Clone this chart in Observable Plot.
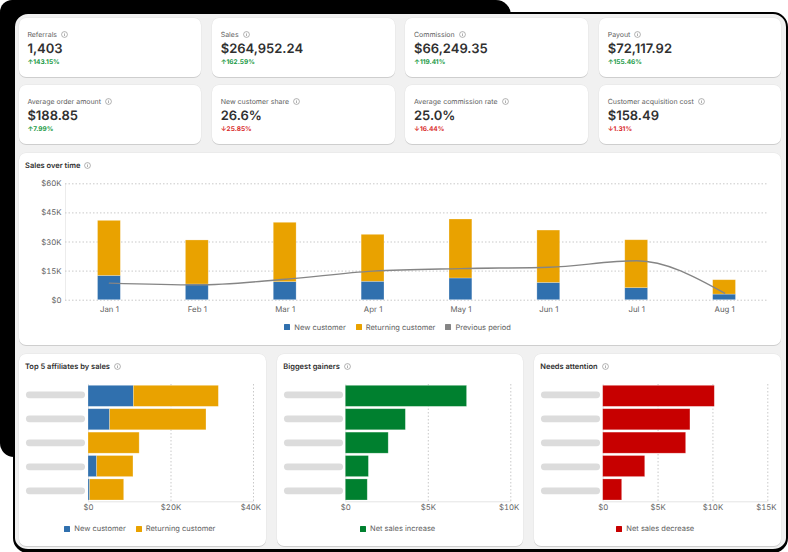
<!DOCTYPE html>
<html><head><meta charset="utf-8">
<script src="https://cdn.jsdelivr.net/npm/d3@7"></script>
<script src="https://cdn.jsdelivr.net/npm/@observablehq/plot@0.6"></script>
<style>
html,body{margin:0;padding:0;background:#fff;width:788px;height:552px;overflow:hidden;font-family:Inter,sans-serif;text-rendering:geometricPrecision}
#root{position:relative;width:788px;height:552px;overflow:hidden}
.blk{position:absolute;left:0;top:0;width:511px;height:457px;background:#000;border-radius:12px 15px 15px 14px}
.frame{position:absolute;left:12.5px;top:12px;width:771.2px;height:534.5px;background:#f1f1f1;border:2px solid #000;border-bottom-width:4px;border-radius:15px;box-sizing:content-box}
.card{position:absolute;background:#fff;border-radius:7px;box-shadow:0 1px 0 rgba(0,0,0,.12),0 0 0 .5px rgba(0,0,0,.05)}
.t{position:absolute;white-space:nowrap;line-height:1}
.lab{font-size:7px;color:#616161;display:flex;align-items:center;gap:4px}
.val{font-size:13px;font-weight:600;color:#303030}
.dlt{font-size:6.5px;font-weight:700}
.ttl{font-size:7.5px;font-weight:600;color:#303030;display:flex;align-items:center;gap:4px}
.leg{position:absolute;display:flex;align-items:center;font-size:7.5px;color:#616161;white-space:nowrap;line-height:1}
.leg i{display:inline-block;width:6px;height:6px;margin-right:4px;border-radius:.5px}
.info{width:7px;height:7px;flex:none}
svg{position:absolute;text-rendering:geometricPrecision}
</style></head><body><div id="root"><div class="blk"></div><div class="frame"></div></div>
<script>
// KPI cards
const kpiLabels = ["Referrals","Sales","Commission","Payout","Average order amount","New customer share","Average commission rate","Customer acquisition cost"];
const kpiValues = ["1,403","$264,952.24","$66,249.35","$72,117.92","$188.85","26.6%","25.0%","$158.49"];
const kpiDeltas = ["143.15%","162.59%","119.41%","155.46%","7.99%","25.85%","16.44%","1.31%"];
const kpiUp = [true,true,true,true,true,false,false,false];

// Sales over time
const months = ["Jan 1","Feb 1","Mar 1","Apr 1","May 1","Jun 1","Jul 1","Aug 1"];
const salesNew = [12500,8100,9300,9500,11200,8900,6200,2900];
const salesReturning = [28400,22700,30600,24200,30400,27000,24700,7400];
const salesPrevious = [8800,7900,10800,15000,16300,17000,20300,3600];
const salesTicks = [0,15000,30000,45000,60000];

// Bottom panels
const rows = ["a","b","c","d","e"];
const topNew = [11000,5250,0,2100,400];
const topReturning = [20600,23350,12400,8800,8250];
const gainers = [7350,3640,2600,1400,1330];
const attention = [10170,7950,7560,3830,1730];

const seriesNames = ["New customer","Returning customer"];
const BLUE="#3070ae",ORANGE="#e9a200",GREEN="#00802f",RED="#c70000",GRAY="#858585";
const FONT="Inter,sans-serif";
const root=document.getElementById("root");
const INFO='<svg class="info" style="position:static" viewBox="0 0 16 16"><circle cx="8" cy="8" r="6.7" fill="none" stroke="#7a7a7a" stroke-width="1.3"/><rect x="7.3" y="7" width="1.4" height="4.5" fill="#7a7a7a"/><rect x="7.3" y="4.3" width="1.4" height="1.5" fill="#7a7a7a"/></svg>';
function el(cls,l,t,w,h,html,style){const d=document.createElement("div");d.className=cls;d.style.left=l+"px";d.style.top=t+"px";if(w!=null)d.style.width=w+"px";if(h!=null)d.style.height=h+"px";if(html!=null)d.innerHTML=html;if(style)d.style.cssText+=style;root.appendChild(d);return d}
const colX=[[18.7,182.6],[212,182.7],[405.3,182.7],[599,182]];
const rowY=[[18,58.7],[85,59]];
kpiLabels.forEach((lab,i)=>{
  const c=colX[i%4],r=rowY[Math.floor(i/4)],tx=c[0]+8.7;
  el("card",c[0],r[0],c[1],r[1]);
  el("t lab",tx,r[0]+12.5,null,null,lab+INFO);
  el("t val",tx,r[0]+24.6,null,null,kpiValues[i]);
  el("t dlt",tx,r[0]+40.7,null,null,(kpiUp[i]?"↑":"↓")+kpiDeltas[i],"color:"+(kpiUp[i]?"#1a9a46":"#d92b2b"));
});
function legend(l,t,items){const d=el("leg",l,t);d.style.gap="10px";items.forEach(([c,n])=>{const s=document.createElement("span");s.style.display="flex";s.style.alignItems="center";s.innerHTML='<i style="background:'+c+'"></i>'+n;d.appendChild(s)});}
function place(p,l,t){p.style.left=l+"px";p.style.top=t+"px";root.appendChild(p)}
const money=d=>d===0?"$0":"$"+d/1000+"K";
const baseStyle={background:"transparent",fontFamily:FONT,fontSize:"7.8px",color:"#616161",overflow:"visible"};
const edge={stroke:"#fff",strokeOpacity:.35,strokeWidth:.7};

// main card
el("card",18.7,153,762.3,192);
el("t ttl",25,162,null,null,"Sales over time"+INFO);
const salesTable=months.flatMap((m,i)=>[{m,s:seriesNames[0],v:salesNew[i]},{m,s:seriesNames[1],v:salesReturning[i]}]);
const prevTable=months.map((m,i)=>({m,v:salesPrevious[i]}));
place(Plot.plot({
  width:762,height:145,marginLeft:46,marginRight:13,marginTop:11.3,marginBottom:17.3,style:baseStyle,
  x:{type:"band",domain:months,paddingInner:.74,paddingOuter:.37,align:.5,round:false,label:null},
  y:{domain:[0,60000],label:null},
  color:{domain:seriesNames,range:[BLUE,ORANGE]},
  marks:[
    Plot.frame({anchor:"left",stroke:"#ececec"}),
    Plot.ruleY(salesTicks,{stroke:"#c9c9c9",strokeDasharray:"1.5,2",strokeWidth:1}),
    Plot.barY(salesTable,{x:"m",y:"v",fill:"s",...edge}),
    Plot.line(prevTable,{x:"m",y:"v",stroke:GRAY,strokeWidth:1.4,curve:"monotone-x"}),
    Plot.axisY({ticks:salesTicks,tickFormat:money,tickSize:0,tickPadding:4,label:null}),
    Plot.axisX({tickSize:0,tickPadding:6.5,label:null})
  ]}),19,172);
legend(284.3,323.7,[[BLUE,"New customer"],[ORANGE,"Returning customer"],[GRAY,"Previous period"]]);

function barCard(cardX,cardW,title,ml,mr,maxX,ticks,lastDx,marks,colorOpt,legX,legItems){
  el("card",cardX,353.5,cardW,192.5);
  el("t ttl",25+(cardX-18.7),363.2,null,null,title+INFO);
  place(Plot.plot({
    width:cardW,height:144,marginLeft:ml,marginRight:mr,marginTop:4,marginBottom:22.7,style:baseStyle,
    x:{domain:[0,maxX],label:null},
    y:{type:"band",domain:rows,range:[5.3,120],paddingInner:.1,paddingOuter:0,align:.5,round:false,axis:null,label:null},
    color:colorOpt,
    marks:[
      Plot.ruleX(ticks.slice(1),{stroke:"#c9c9c9",strokeDasharray:"1.5,2"}),
      Plot.ruleX([0],{stroke:"#e4e4e4"}),
      Plot.frame({anchor:"bottom",stroke:"#e4e4e4"}),
      ...marks,
      Plot.axisX({ticks:ticks.slice(0,-1),tickFormat:money,tickSize:0,tickPadding:3,label:null}),
      Plot.axisX({ticks:ticks.slice(-1),tickFormat:money,tickSize:0,tickPadding:3,label:null,dx:lastDx})
    ]}),cardX,380);
  place(Plot.plot({
    width:70,height:115,margin:0,style:baseStyle,
    x:{domain:[0,1],range:[10.3,62.7],axis:null},
    y:{type:"point",domain:rows,range:[9.3,105.3],padding:0,round:false,axis:null},
    marks:[Plot.ruleY(rows,{y:d=>d,x1:0,x2:1,stroke:"#dcdcdc",strokeWidth:6.7,strokeLinecap:"round"})]
  }),cardX,385);
  legend(legX,525.2,legItems);
}
const topTable=rows.flatMap((r,i)=>[{r,s:seriesNames[0],v:topNew[i]},{r,s:seriesNames[1],v:topReturning[i]}]);
barCard(18.7,247.5,"Top 5 affiliates by sales",69,13.5,40000,[0,20000,40000],-2.7,
  [Plot.barX(topTable,{y:"r",x:"v",fill:"s",...edge})],{domain:seriesNames,range:[BLUE,ORANGE]},
  64.3,[[BLUE,"New customer"],[ORANGE,"Returning customer"]]);
barCard(277,246,"Biggest gainers",68.3,12.7,10000,[0,5000,10000],-1.7,
  [Plot.barX(rows.map((r,i)=>({r,v:gainers[i]})),{y:"r",x:"v",fill:GREEN,...edge})],undefined,
  360,[[GREEN,"Net sales increase"]]);
barCard(534,247,"Needs attention",68.7,13.7,15000,[0,5000,10000,15000],-1.4,
  [Plot.barX(rows.map((r,i)=>({r,v:attention[i]})),{y:"r",x:"v",fill:RED,...edge})],undefined,
  616.3,[[RED,"Net sales decrease"]]);
</script></body></html>
